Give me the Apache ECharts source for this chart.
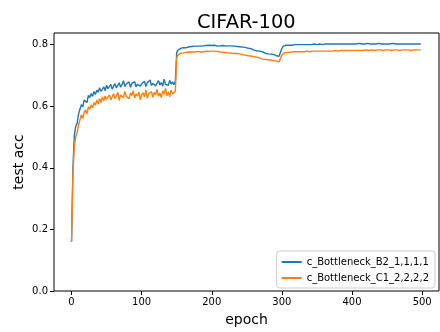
<!DOCTYPE html>
<html>
<head>
<meta charset="utf-8">
<script src="https://cdn.jsdelivr.net/npm/echarts@6/dist/echarts.min.js"></script>
<style>
  html, body { margin: 0; padding: 0; background: #fff; }
  #chart { width: 440px; height: 332px; }
</style>
</head>
<body>
<div id="chart"></div>
<script>
// test acc, one value every 2 epochs (0, 2, ..., 498)
var accB2 = [
  0.160, 0.400, 0.505, 0.535, 0.545, 0.575, 0.590, 0.605, 0.598, 0.620,
  0.625, 0.612, 0.635, 0.628, 0.641, 0.632, 0.648, 0.638, 0.652, 0.645,
  0.660, 0.648, 0.655, 0.663, 0.650, 0.668, 0.657, 0.662, 0.671, 0.655,
  0.666, 0.673, 0.659, 0.668, 0.676, 0.662, 0.670, 0.683, 0.664, 0.672,
  0.667, 0.679, 0.661, 0.674, 0.669, 0.680, 0.663, 0.671, 0.677, 0.665,
  0.673, 0.668, 0.681, 0.664, 0.676, 0.670, 0.685, 0.667, 0.674, 0.679,
  0.666, 0.672, 0.683, 0.669, 0.677, 0.665, 0.688, 0.671, 0.676, 0.668,
  0.684, 0.672, 0.679, 0.670, 0.681,
  0.775, 0.783, 0.786, 0.788, 0.789,
  0.790, 0.791, 0.790, 0.792, 0.793, 0.792, 0.794, 0.793, 0.795, 0.794,
  0.795, 0.796, 0.795, 0.797, 0.796, 0.795, 0.797, 0.796, 0.798, 0.796,
  0.797, 0.796, 0.798, 0.797, 0.795, 0.797, 0.796, 0.798, 0.797, 0.796,
  0.795, 0.797, 0.796, 0.795, 0.796, 0.794, 0.795, 0.793, 0.794, 0.792,
  0.793, 0.791, 0.792, 0.790, 0.791,
  0.789, 0.788, 0.786, 0.787, 0.784, 0.782, 0.783, 0.780, 0.778, 0.779,
  0.776, 0.777, 0.774, 0.772, 0.773, 0.770, 0.771, 0.769, 0.767, 0.768,
  0.766, 0.764, 0.765, 0.762, 0.760,
  0.788, 0.795, 0.797, 0.798, 0.797, 0.798, 0.799, 0.798, 0.799, 0.800,
  0.799, 0.800, 0.799, 0.800, 0.801, 0.800, 0.799, 0.800, 0.801, 0.800,
  0.801, 0.800, 0.801, 0.802, 0.801,
  0.800, 0.801, 0.802, 0.801, 0.800, 0.801, 0.802, 0.801, 0.802, 0.801,
  0.802, 0.803, 0.802, 0.801, 0.802, 0.803, 0.802, 0.801, 0.802, 0.803,
  0.802, 0.803, 0.802, 0.801, 0.802,
  0.803, 0.802, 0.803, 0.802, 0.803, 0.804, 0.803, 0.802, 0.803, 0.802,
  0.803, 0.804, 0.803, 0.802, 0.803, 0.802, 0.803, 0.802, 0.803, 0.804,
  0.803, 0.802, 0.803, 0.802, 0.803,
  0.802, 0.803, 0.802, 0.803, 0.804, 0.803, 0.802, 0.803, 0.802, 0.803,
  0.802, 0.803, 0.802, 0.801, 0.802, 0.803, 0.802, 0.803, 0.802, 0.803,
  0.802, 0.803, 0.802, 0.803, 0.802
];

var accC1 = [
  0.160, 0.380, 0.470, 0.500, 0.515, 0.540, 0.555, 0.572, 0.560, 0.580,
  0.588, 0.575, 0.598, 0.590, 0.605, 0.595, 0.612, 0.603, 0.620, 0.607,
  0.625, 0.612, 0.630, 0.618, 0.633, 0.622, 0.628, 0.637, 0.620, 0.631,
  0.640, 0.625, 0.634, 0.645, 0.619, 0.636, 0.642, 0.628, 0.648, 0.632,
  0.638, 0.624, 0.643, 0.635, 0.650, 0.627, 0.640, 0.633, 0.646, 0.621,
  0.637, 0.644, 0.630, 0.652, 0.626, 0.641, 0.635, 0.647, 0.629, 0.645,
  0.638, 0.655, 0.632, 0.643, 0.628, 0.650, 0.639, 0.658, 0.634, 0.646,
  0.631, 0.653, 0.640, 0.636, 0.648,
  0.758, 0.767, 0.770, 0.772, 0.773,
  0.773, 0.774, 0.775, 0.774, 0.776, 0.775, 0.776, 0.777, 0.776, 0.777,
  0.778, 0.777, 0.776, 0.778, 0.777, 0.778, 0.779, 0.777, 0.778, 0.777,
  0.779, 0.778, 0.779, 0.777, 0.778, 0.777, 0.776, 0.777, 0.775, 0.776,
  0.774, 0.775, 0.773, 0.774, 0.772, 0.773, 0.771, 0.770, 0.771, 0.769,
  0.770, 0.768, 0.767, 0.768, 0.766,
  0.765, 0.764, 0.762, 0.763, 0.760, 0.761, 0.758, 0.759, 0.756, 0.757,
  0.755, 0.753, 0.754, 0.752, 0.750, 0.751, 0.749, 0.750, 0.747, 0.748,
  0.746, 0.747, 0.745, 0.744, 0.742,
  0.766, 0.772, 0.774, 0.775, 0.774, 0.776, 0.775, 0.776, 0.777, 0.776,
  0.777, 0.776, 0.777, 0.778, 0.777, 0.778, 0.777, 0.778, 0.779, 0.778,
  0.777, 0.778, 0.779, 0.778, 0.779,
  0.778, 0.779, 0.778, 0.779, 0.780, 0.779, 0.778, 0.779, 0.780, 0.779,
  0.780, 0.779, 0.780, 0.781, 0.780, 0.779, 0.780, 0.781, 0.780, 0.781,
  0.780, 0.781, 0.782, 0.781, 0.780,
  0.781, 0.782, 0.781, 0.780, 0.781, 0.782, 0.781, 0.782, 0.781, 0.782,
  0.783, 0.782, 0.781, 0.782, 0.783, 0.782, 0.781, 0.782, 0.783, 0.782,
  0.783, 0.782, 0.781, 0.782, 0.783,
  0.782, 0.783, 0.782, 0.781, 0.782, 0.783, 0.782, 0.783, 0.782, 0.781,
  0.782, 0.783, 0.782, 0.783, 0.782, 0.783, 0.782, 0.781, 0.782, 0.783,
  0.782, 0.783, 0.782, 0.783, 0.782
];

var seriesNames = ['c_Bottleneck_B2_1,1,1,1', 'c_Bottleneck_C1_2,2,2,2'];
var xTicks = [0, 100, 200, 300, 400, 500];
var yTicks = [0, 0.2, 0.4, 0.6, 0.8];

var epochs = accB2.map(function (v, i) { return i * 2; });

function pairs(vals) {
  return vals.map(function (v, i) { return [epochs[i], v]; });
}

var chart = echarts.init(document.getElementById('chart'), null, { renderer: 'canvas' });

var font = 'DejaVu Sans';

var option = {
  backgroundColor: '#fff',
  animation: false,
  textStyle: { fontFamily: font },
  title: {
    text: 'CIFAR-100',
    left: 192,
    top: 8,
    textStyle: { fontFamily: font, fontSize: 19.4, fontWeight: 'normal', color: '#000' }
  },
  grid: {
    left: 54, right: 1, top: 33, bottom: 39,
    show: true, borderColor: '#000', borderWidth: 1, backgroundColor: '#fff'
  },
  legend: {
    orient: 'vertical',
    right: 5,
    bottom: 44,
    itemWidth: 20,
    itemHeight: 2,
    itemGap: 6,
    icon: 'rect',
    padding: [6, 6, 5, 5],
    backgroundColor: '#fff',
    borderColor: '#ccc',
    borderWidth: 1,
    borderRadius: 3,
    textStyle: { fontFamily: font, fontSize: 10, color: '#000' },
    data: seriesNames
  },
  xAxis: {
    type: 'value',
    min: -25,
    max: 524,
    name: 'epoch',
    nameLocation: 'middle',
    nameGap: 22,
    nameMoveOverlap: false,
    nameTextStyle: { fontFamily: font, fontSize: 14, color: '#000' },
    axisLine: { show: false, onZero: false },
    axisTick: { show: true, length: 4, lineStyle: { color: '#000' }, customValues: xTicks },
    axisLabel: { fontFamily: font, fontSize: 10, color: '#000', margin: 6, customValues: xTicks },
    splitLine: { show: false }
  },
  yAxis: {
    type: 'value',
    min: 0,
    max: 0.8377,
    name: 'test acc',
    nameLocation: 'middle',
    nameGap: 28,
    nameMoveOverlap: false,
    nameTextStyle: { fontFamily: font, fontSize: 14, color: '#000' },
    axisLine: { show: false, onZero: false },
    axisTick: { show: true, length: 4, lineStyle: { color: '#000' }, customValues: yTicks },
    axisLabel: {
      fontFamily: font, fontSize: 10, color: '#000', margin: 6, customValues: yTicks,
      formatter: function (v) { return v.toFixed(1); }
    },
    splitLine: { show: false }
  },
  series: [
    {
      name: seriesNames[0],
      type: 'line',
      data: pairs(accB2),
      showSymbol: false,
      color: '#1f77b4',
      lineStyle: { width: 1.4, color: '#1f77b4' }
    },
    {
      name: seriesNames[1],
      type: 'line',
      data: pairs(accC1),
      showSymbol: false,
      color: '#ff7f0e',
      lineStyle: { width: 1.4, color: '#ff7f0e' }
    }
  ]
};

chart.setOption(option);
</script>
</body>
</html>
